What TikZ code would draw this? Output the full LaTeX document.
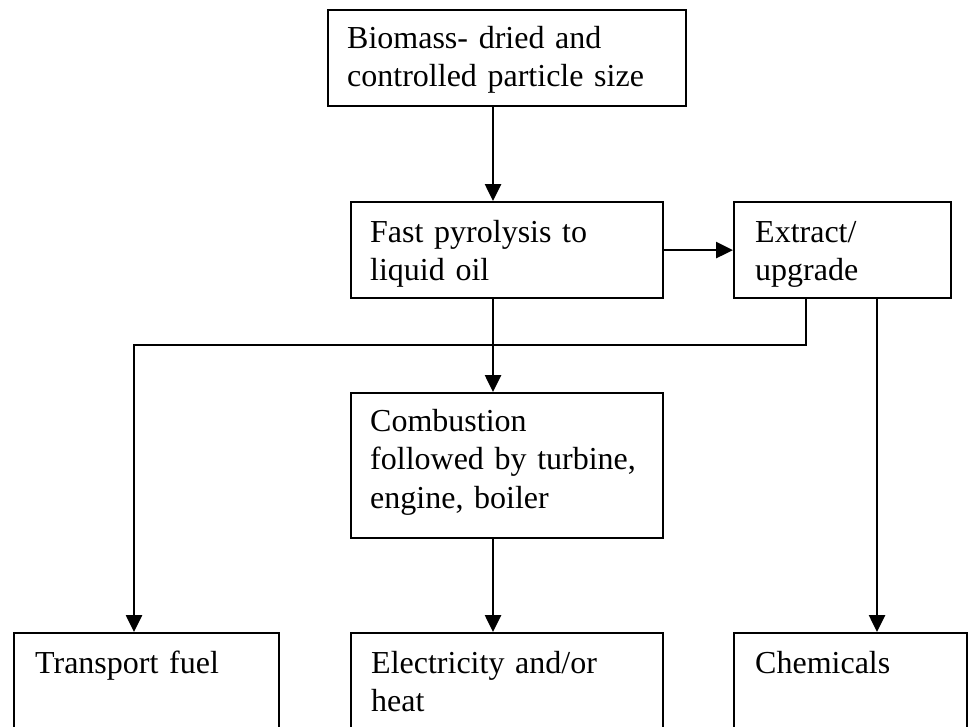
\documentclass[tikz,border=0pt]{standalone}
\usepackage{fontspec}
\setmainfont{Liberation Serif}
\usetikzlibrary{arrows.meta}
\begin{document}
\begin{tikzpicture}[x=1pt,y=-1pt,
  stagebox/.style={draw, line width=2.2pt, rectangle, inner sep=0pt, anchor=north west},
  boxtext/.style={anchor=base west, inner sep=0pt, text width=420pt, align=left,
    font=\fontsize{32}{38.5}\selectfont},
  flow/.style={line width=2.6pt, -{Triangle[length=17pt,width=16pt]}}]
\useasboundingbox (0,0) rectangle (971,726);
\clip (0,0) rectangle (971,726);
\fill[white] (0,0) rectangle (971,726);

% process boxes
\node[stagebox, minimum width=358pt, minimum height=96pt]  (bio)   at (327,9)   {};
\node[stagebox, minimum width=312pt, minimum height=96pt]  (pyro)  at (350,201) {};
\node[stagebox, minimum width=217pt, minimum height=96pt]  (ext)   at (733,201) {};
\node[stagebox, minimum width=312pt, minimum height=145pt] (comb)  at (350,392) {};
\node[stagebox, minimum width=265pt, minimum height=130pt] (trans) at (13,632)  {};
\node[stagebox, minimum width=312pt, minimum height=130pt] (elec)  at (350,632) {};
\node[stagebox, minimum width=233pt, minimum height=130pt] (chem)  at (733,632) {};

% box labels
\node[boxtext] (bioT)   at (347,48)  {Biomass- dried and\\controlled particle size};
\node[boxtext] (pyroT)  at (370,242) {Fast pyrolysis to\\liquid oil};
\node[boxtext] (extT)   at (755,242) {Extract/\\upgrade};
\node[boxtext] (combT)  at (370,431) {Combustion\\followed by turbine,\\engine, boiler};
\node[boxtext] (transT) at (35,673)  {Transport fuel};
\node[boxtext] (elecT)  at (371,673) {Electricity and/or\\heat};
\node[boxtext] (chemT)  at (755,673) {Chemicals};

% vertical guide lines for the connectors
\coordinate (spine) at (493,0);
\coordinate (fuelx) at (134,0);
\coordinate (extl)  at (806,0);
\coordinate (extr)  at (877,0);
\coordinate (busy)  at (0,345);

% connectors
\draw[flow] (bio.south -| spine) -- (pyro.north -| spine);
\draw[flow] (pyro.east) -- (ext.west);
\draw[flow] (pyro.south -| spine) -- (comb.north -| spine);
\draw[flow] (comb.south -| spine) -- (elec.north -| spine);
\draw[flow] (ext.south -| extr) -- (chem.north -| extr);
\draw[flow] (ext.south -| extl) -- (busy -| extl) -- (busy -| fuelx) -- (trans.north -| fuelx);
\end{tikzpicture}
\end{document}
